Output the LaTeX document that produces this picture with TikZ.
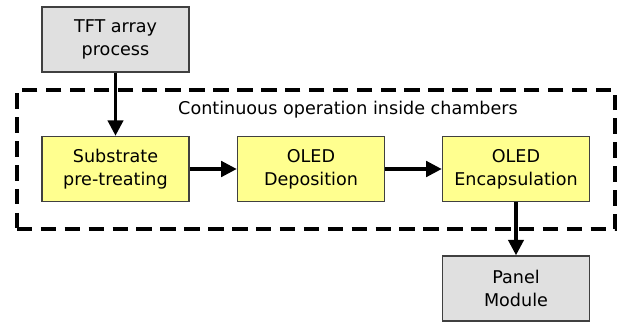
\documentclass[tikz,border=0pt]{standalone}
\usepackage{fontspec}
\setmainfont{DejaVu Sans}
\usepackage{xcolor}
\usepackage{tikz}
\usetikzlibrary{positioning, fit, arrows.meta}

\definecolor{procgray}{HTML}{E0E0E0}
\definecolor{procyellow}{HTML}{FFFF8F}

\begin{document}
\begin{tikzpicture}[
    x=0.025cm, y=-0.025cm,
    outer/.style={draw, rectangle, fill=procgray, line width=1.1pt, draw=black!75, minimum width=3.675cm, minimum height=1.625cm, align=center, inner sep=0pt},
    inner/.style={outer, fill=procyellow},
    chamber/.style={draw, rectangle, dashed, dash pattern=on 11pt off 6pt, line width=2.4pt, inner sep=0pt},
    mylabel/.style={font=\fontsize{12.5}{16.5}\selectfont},
    flow/.style={-{Triangle[length=11pt, width=11pt]}, line width=2.2pt},
    >=LaTeX
    ]

        \useasboundingbox (0, 0) rectangle (617, 322);

        \node[chamber, minimum width=14.95cm, minimum height=3.475cm] (box) at (316, 159.5) {};
        \node[mylabel] (caption) at (348, 110) {Continuous operation inside chambers};

        \node[outer, mylabel] (tft) at (115.5, 39.5) {TFT array\\process};
        \node[inner, mylabel] (sub) at (115.5, 169) {Substrate\\pre-treating};
        \node[inner, mylabel] (dep) at (311, 169) {OLED\\Deposition};
        \node[inner, mylabel] (enc) at (516, 169) {OLED\\Encapsulation};
        \node[outer, mylabel] (panel) at (516, 288.5) {Panel\\Module};

        \draw[flow] (tft.south) to (sub.north);
        \draw[flow] (sub.east) to (dep.west);
        \draw[flow] (dep.east) to (enc.west);
        \draw[flow] (enc.south) to (panel.north);
		\end{tikzpicture}
\end{document}
